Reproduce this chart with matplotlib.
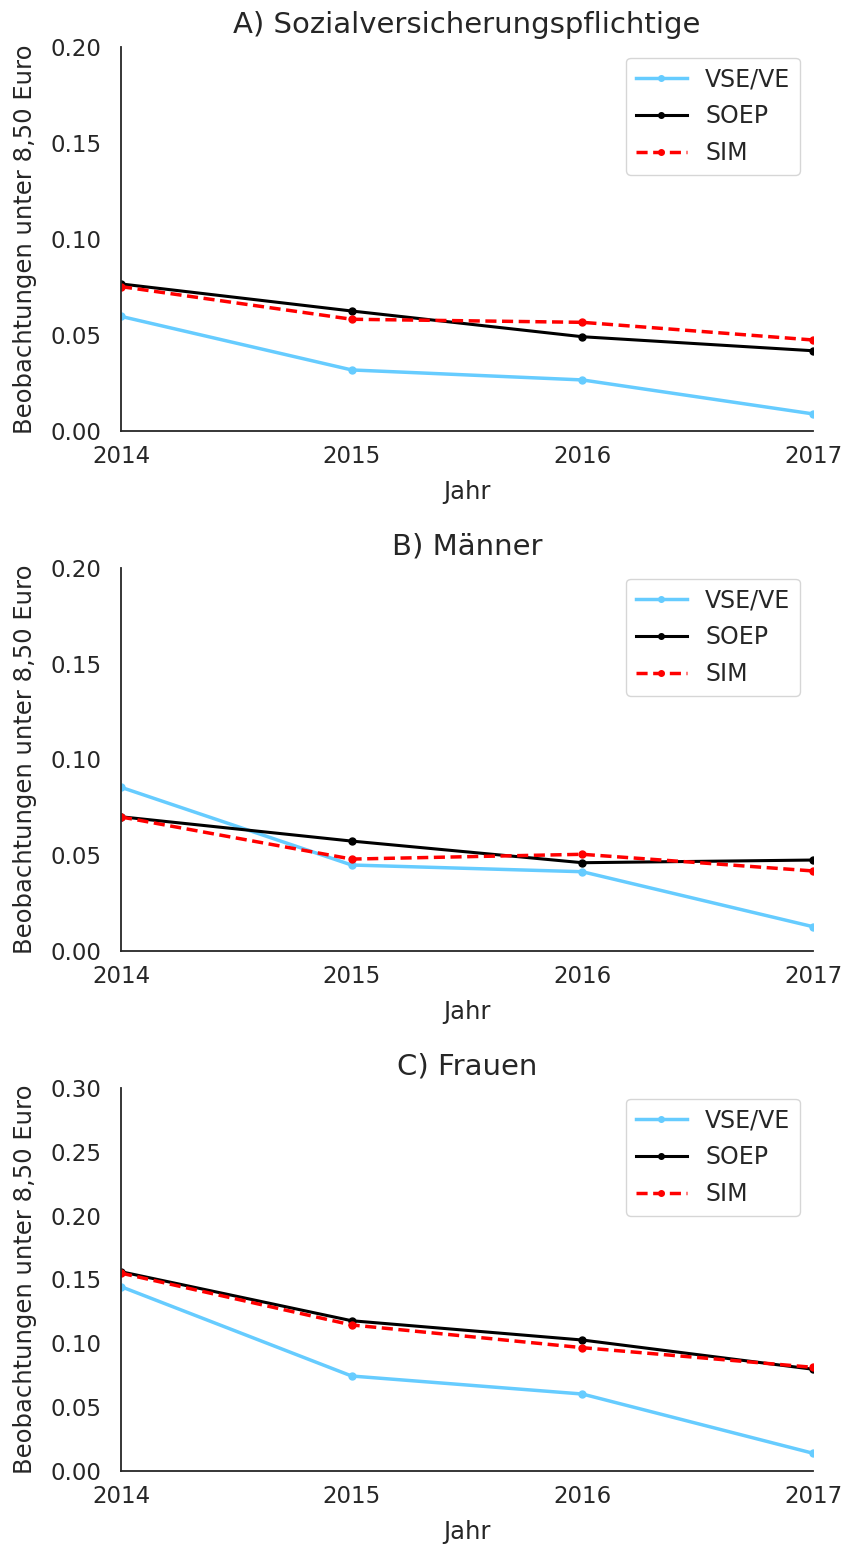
import matplotlib
matplotlib.use("Agg")
import matplotlib.pyplot as plt
import numpy as np

years = [2014, 2015, 2016, 2017]

# A) Sozialversicherungspflichtige
vse_a = [0.0597, 0.0318, 0.0266, 0.0089]
soep_a = [0.0766, 0.0625, 0.0491, 0.0418]
sim_a = [0.0752, 0.0582, 0.0566, 0.0474]

# B) Maenner
vse_b = [0.0855, 0.0449, 0.0414, 0.0127]
soep_b = [0.0701, 0.0574, 0.0461, 0.0475]
sim_b = [0.0700, 0.0480, 0.0505, 0.0418]

# C) Frauen
vse_c = [0.1444, 0.0744, 0.0603, 0.0139]
soep_c = [0.1561, 0.1177, 0.1026, 0.0797]
sim_c = [0.1550, 0.1144, 0.0966, 0.0812]

titles = ["A) Sozialversicherungspflichtige", "B) Männer", "C) Frauen"]
ymaxes = [0.20, 0.20, 0.30]
series = [(vse_a, soep_a, sim_a), (vse_b, soep_b, sim_b), (vse_c, soep_c, sim_c)]

TXT = "#262626"
plt.rcParams["font.family"] = "DejaVu Sans"
plt.rcParams["text.color"] = TXT
plt.rcParams["axes.labelcolor"] = TXT
plt.rcParams["xtick.color"] = TXT
plt.rcParams["ytick.color"] = TXT

W, H = 845, 1546
fig = plt.figure(figsize=(W / 100, H / 100), dpi=100)

boxes = [(47, 431), (568, 951), (1088, 1471)]
left, right = 121, 813

for (top, bottom), title, ymax, (vse, soep, sim) in zip(boxes, titles, ymaxes, series):
    ax = fig.add_axes([left / W, 1 - bottom / H, (right - left) / W, (bottom - top) / H])
    ax.plot(years, vse, color="#66ccff", lw=2.5, marker="o", ms=5, label="VSE/VE")
    ax.plot(years, soep, color="black", lw=2.2, marker="o", ms=5, label="SOEP")
    ax.plot(years, sim, color="red", lw=2.5, ls="--", marker="o", ms=5, label="SIM",
            dashes=(3.2, 1.6))
    ax.set_xlim(2014, 2017)
    ax.set_ylim(0, ymax)
    ax.set_xticks(years)
    ax.set_yticks(np.arange(0, ymax + 0.001, 0.05))
    ax.yaxis.set_major_formatter(matplotlib.ticker.FormatStrFormatter("%.2f"))
    ax.tick_params(axis="y", labelsize=16.5, length=0, pad=14)
    ax.tick_params(axis="x", labelsize=16.5, length=0, pad=10)
    ax.set_title(title, fontsize=21, pad=10)
    ax.set_xlabel("Jahr", fontsize=17.5, labelpad=9)
    ax.set_ylabel("Beobachtungen unter 8,50 Euro", fontsize=17.5, labelpad=10)
    for s in ("top", "right"):
        ax.spines[s].set_visible(False)
    ax.spines["left"].set_color(TXT)
    ax.spines["bottom"].set_color(TXT)
    ax.spines["left"].set_linewidth(1.3)
    ax.spines["bottom"].set_linewidth(1.3)
    leg = ax.legend(loc="upper right", fontsize=17, borderpad=0.4, labelspacing=0.55,
                    handlelength=2.2, handletextpad=0.75, markerscale=0.8,
                    borderaxespad=0, bbox_to_anchor=(0.981, 0.972))
    for t in leg.get_texts():
        t.set_color(TXT)

fig.savefig("out.png", dpi=100)
